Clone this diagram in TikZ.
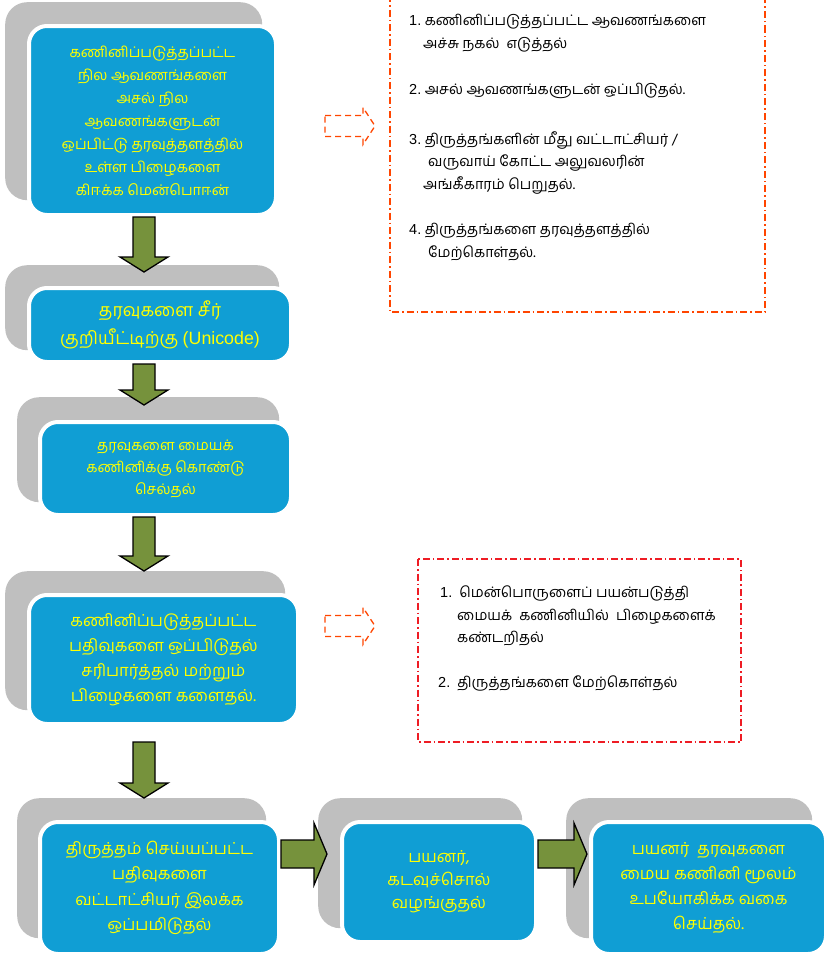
\documentclass[tikz,border=0pt]{standalone}
\usepackage{fontspec}
\setmainfont{Hind Madurai}[Script=Tamil]
\newfontfamily\latinfont{Liberation Sans}
\usetikzlibrary{calc}
\definecolor{boxblue}{RGB}{16,158,212}
\definecolor{backgray}{RGB}{191,191,191}
\definecolor{arrowgreen}{RGB}{118,146,60}
\definecolor{textyellow}{RGB}{255,255,0}
\definecolor{noteorange}{RGB}{255,69,0}
\definecolor{notered}{RGB}{238,28,36}

% block arrows: style, tail, tip, half shaft, half head, head length
\newcommand{\varrow}[6]{%
  \draw[#1] let \p1=(#2), \p2=(#3) in
    (\x1-#4,\y1) -- (\x1+#4,\y1) -- (\x1+#4,\y2+#6) -- (\x1+#5,\y2+#6)
    -- (\x2,\y2) -- (\x1-#5,\y2+#6) -- (\x1-#4,\y2+#6) -- cycle;}
\newcommand{\harrow}[6]{%
  \draw[#1] let \p1=(#2), \p2=(#3) in
    (\x1,\y1+#4) -- (\x2-#6,\y1+#4) -- (\x2-#6,\y1+#5) -- (\x2,\y2)
    -- (\x2-#6,\y1-#5) -- (\x2-#6,\y1-#4) -- (\x1,\y1-#4) -- cycle;}

\tikzset{
  backbox/.style={fill=backgray, rounded corners=22pt, inner sep=0pt, anchor=north west},
  stepbox/.style={fill=boxblue, draw=white, line width=4pt, rounded corners=18pt,
    anchor=north west, text=textyellow, align=center, inner sep=0pt},
  garrow/.style={fill=arrowgreen, draw=black, line width=1.3pt, line join=miter},
  darrow/.style={draw=noteorange, line width=1.3pt, dash pattern=on 6pt off 4pt},
  notebox/.style={line width=1.5pt, dash pattern=on 7pt off 3pt on 1.5pt off 3pt},
  note/.style={anchor=north west, align=left, inner sep=0pt,
    font=\fontsize{14.5}{22.5}\selectfont}
}

\begin{document}
\begin{tikzpicture}[x=1pt, y=-1pt]
\useasboundingbox (0,0) rectangle (824,953);

% grey backs
\node[backbox, minimum width=257, minimum height=198] (s1) at (5,2) {};
\node[backbox, minimum width=274, minimum height=85] (s2) at (5,265) {};
\node[backbox, minimum width=262, minimum height=105] (s3) at (17,397) {};
\node[backbox, minimum width=280, minimum height=139] (s4) at (5,571) {};
\node[backbox, minimum width=249, minimum height=140] (s5) at (17,798) {};
\node[backbox, minimum width=204, minimum height=130] (s6) at (318,798) {};
\node[backbox, minimum width=246, minimum height=140] (s7) at (566,798) {};

% steps
\node[stepbox, minimum width=247, minimum height=189,
  font=\fontsize{14.7}{23}\selectfont] (b1) at (27,24)
  {கணினிப்படுத்தப்பட்ட\\நில ஆவணங்களை\\அசல் நில\\ஆவணங்களுடன்\\ஒப்பிட்டு தரவுத்தளத்தில்\\உள்ள பிழைகளை\\கிஈக்க மென்பொஈன்};
\node[stepbox, minimum width=262, minimum height=74,
  font=\fontsize{17.8}{28}\selectfont] (b2) at (27,286)
  {தரவுகளை சீர்\\குறியீட்டிற்கு {\latinfont (Unicode)}};
\node[stepbox, minimum width=251, minimum height=93,
  font=\fontsize{14.6}{22}\selectfont] (b3) at (38,420)
  {தரவுகளை மையக்\\கணினிக்கு கொண்டு\\செல்தல்};
\node[stepbox, minimum width=269, minimum height=129,
  font=\fontsize{16.5}{25}\selectfont] (b4) at (27,593)
  {கணினிப்படுத்தப்பட்ட\\பதிவுகளை ஒப்பிடுதல்\\சரிபார்த்தல் மற்றும்\\பிழைகளை களைதல்.};
\node[stepbox, minimum width=239, minimum height=132,
  font=\fontsize{16.5}{25.5}\selectfont] (b5) at (38,820)
  {திருத்தம் செய்யப்பட்ட\\பதிவுகளை\\வட்டாட்சியர் இலக்க\\ஒப்பமிடுதல்};
\node[stepbox, minimum width=194, minimum height=120,
  font=\fontsize{16.5}{23}\selectfont] (b6) at (340,820)
  {பயனர்,\\கடவுச்சொல்\\வழங்குதல்};
\node[stepbox, minimum width=235, minimum height=132,
  font=\fontsize{16.5}{25}\selectfont] (b7) at (589,820)
  {பயனர்~ தரவுகளை\\மைய கணினி மூலம்\\உபயோகிக்க வகை\\செய்தல்.};

% green arrows
\coordinate (col) at (144,0);
\coordinate (row) at (0,854);
\varrow{garrow}{b1.south -| col}{$(s2.north -| col)+(0,7)$}{11pt}{24pt}{15pt}
\varrow{garrow}{b2.south -| col}{$(s3.north -| col)+(0,8)$}{11pt}{24pt}{15pt}
\varrow{garrow}{b3.south -| col}{$(s4.north -| col)$}{11pt}{24pt}{15pt}
\varrow{garrow}{$(b4.south -| col)+(0,16)$}{$(s5.north -| col)$}{11pt}{24pt}{15pt}
\harrow{garrow}{b5.east |- row}{$(b6.west |- row)+(-13,0)$}{14pt}{31pt}{13pt}
\harrow{garrow}{b6.east |- row}{$(b7.west |- row)+(-2,0)$}{14pt}{31pt}{13pt}

% notes
\draw[notebox, noteorange] (390,-5) -- (390,312) -- (765,312) -- (765,-5);
\draw[notebox, notered] (418,559) rectangle (741,742);

\coordinate (d1s) at (325,126);
\coordinate (d1e) at (375,126);
\coordinate (d2s) at (325,626);
\coordinate (d2e) at (375,626);
\harrow{darrow}{d1s}{d1e}{10.5pt}{18.5pt}{12pt}
\harrow{darrow}{d2s}{d2e}{10.5pt}{18.5pt}{12pt}

\node[note] (n1) at (409,14)
  {{\latinfont 1.}~கணினிப்படுத்தப்பட்ட ஆவணங்களை\\\hspace*{14pt}அச்சு நகல்~ எடுத்தல்};
\node[note] (n2) at (409,83)
  {{\latinfont 2.}~அசல் ஆவணங்களுடன் ஒப்பிடுதல்.};
\node[note] (n3) at (409,131)
  {{\latinfont 3.}~திருத்தங்களின் மீது வட்டாட்சியர் /\\\hspace*{19pt}வருவாய் கோட்ட அலுவலரின்\\\hspace*{14pt}அங்கீகாரம் பெறுதல்.};
\node[note] (n4) at (409,223)
  {{\latinfont 4.}~திருத்தங்களை தரவுத்தளத்தில்\\\hspace*{19pt}மேற்கொள்தல்.};
\node[note] (m1) at (440,586)
  {{\latinfont 1.}~~மென்பொருளைப் பயன்படுத்தி\\\hspace*{17pt}மையக்~ கணினியில்~ பிழைகளைக்\\\hspace*{17pt}கண்டறிதல்};
\node[note] (m2) at (438,676)
  {{\latinfont 2.}~~திருத்தங்களை மேற்கொள்தல்};
\end{tikzpicture}
\end{document}
